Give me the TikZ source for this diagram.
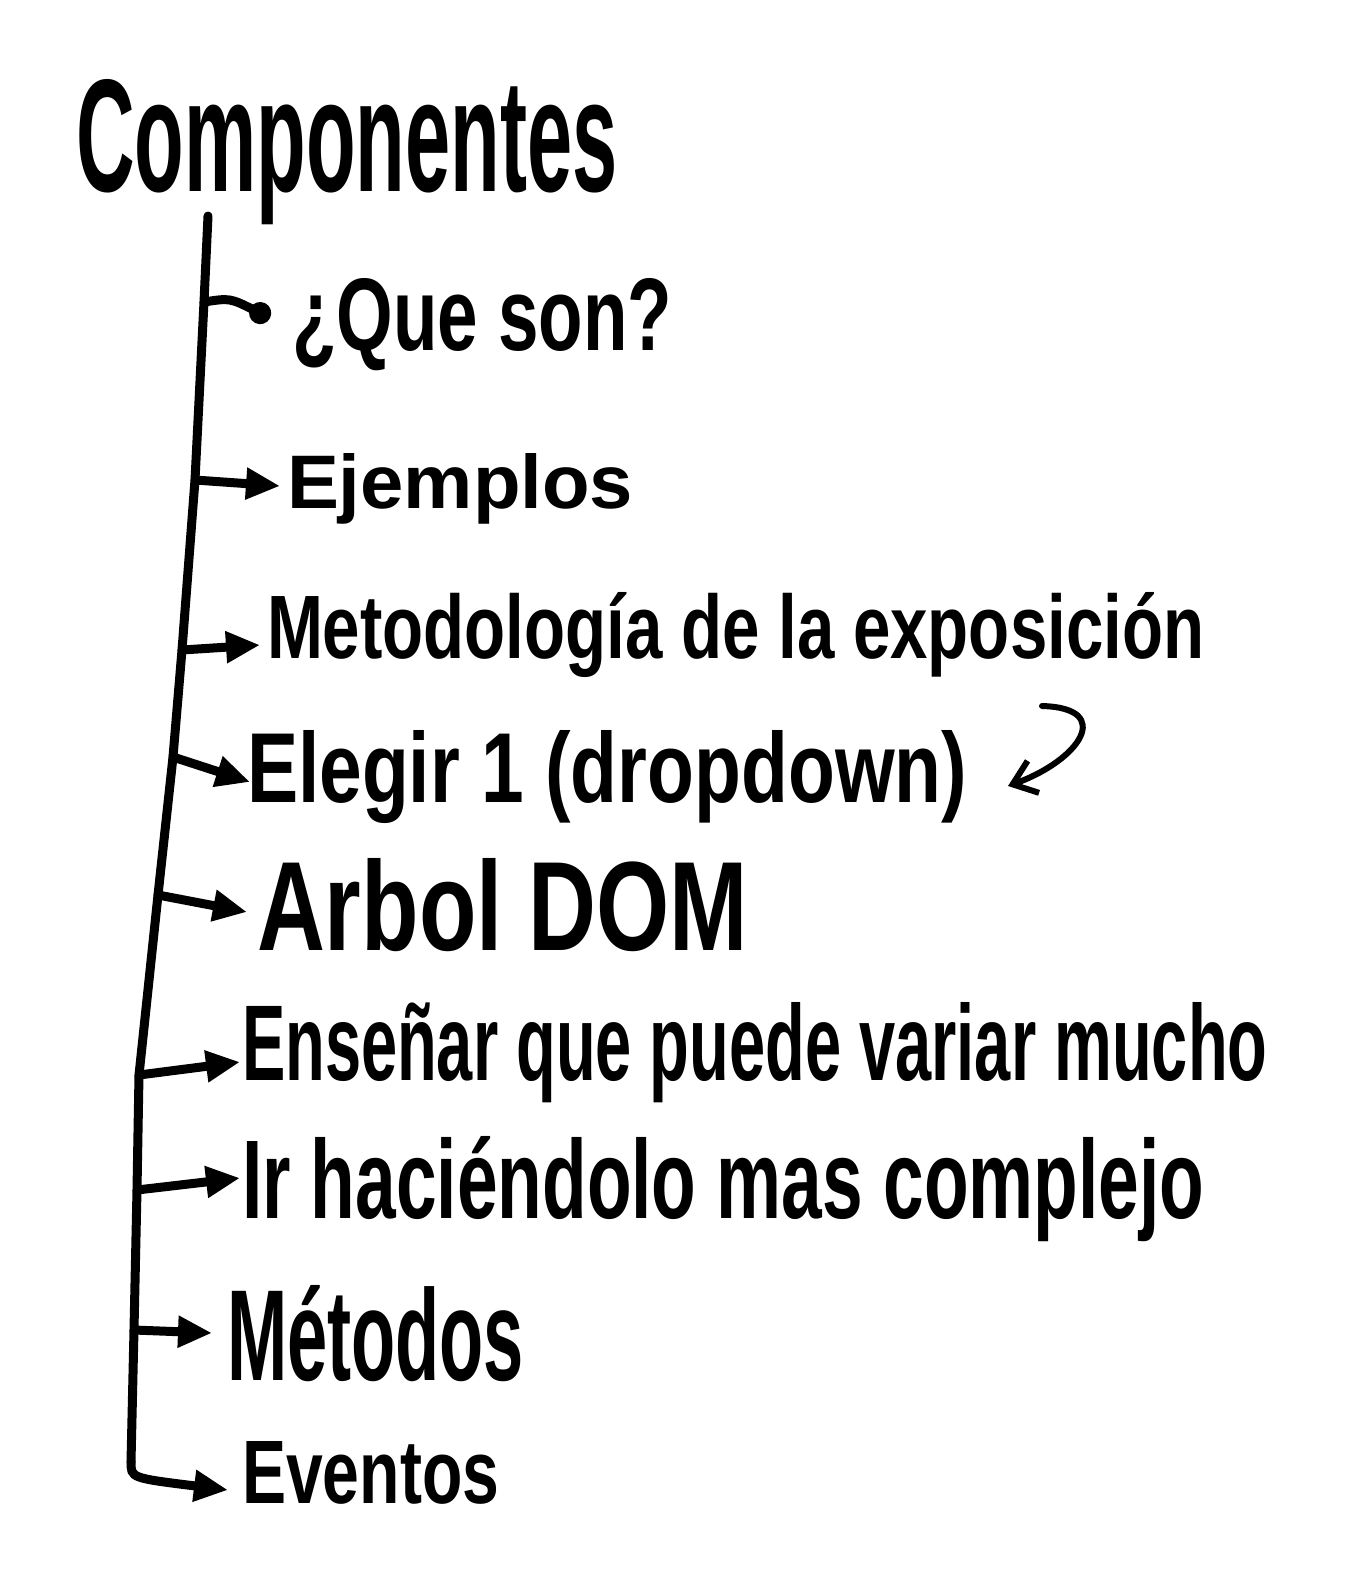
\documentclass[tikz,border=0pt]{standalone}
\usepackage{fontspec}
\setmainfont{Liberation Sans}
\usepackage{graphicx}
\usetikzlibrary{arrows.meta}
\newcommand{\fitbox}[3]{\resizebox{#1pt}{#2pt}{\bfseries #3}}
\begin{document}
\begin{tikzpicture}[x=1pt,y=-1pt,
  lbl/.style={anchor=base west, inner sep=0pt, outer sep=0pt},
  spine/.style={line width=9pt, line cap=round, line join=round},
  branch/.style={line width=9pt, line cap=round, -{Triangle[length=34pt,width=30pt]}},
  dotbranch/.style={line width=9pt, line cap=round, -{Circle[length=22pt]}},
  remark/.style={line width=6pt, line cap=round, -{Straight Barb[length=22pt,width=34pt,line width=6pt]}}]
\useasboundingbox[fill=white] (0,0) rectangle (1364,1579);

% labels
\node[lbl] (title) at (76,191) {\fitbox{541}{112}{Componentes}};
\node[lbl] (q) at (292,350) {\fitbox{380}{72}{¿Que son?}};
\node[lbl] (ej) at (287,508) {\fitbox{346}{55}{Ejemplos}};
\node[lbl] (met) at (267,658) {\fitbox{937}{66}{Metodología de la exposición}};
\node[lbl] (ele) at (247,802) {\fitbox{720}{72}{Elegir 1 (dropdown)}};
\node[lbl] (dom) at (257,950) {\fitbox{491}{92}{Arbol DOM}};
\node[lbl] (ens) at (242,1080) {\fitbox{1025}{78}{Enseñar que puede variar mucho}};
\node[lbl] (ir) at (242,1218) {\fitbox{962}{82}{Ir haciéndolo mas complejo}};
\node[lbl] (mtd) at (227,1380) {\fitbox{297}{95}{Métodos}};
\node[lbl] (ev) at (242,1503) {\fitbox{257}{62}{Eventos}};

% spine points
\coordinate (s0) at (208,216);
\coordinate (s1) at (204,302);
\coordinate (s2) at (195,480);
\coordinate (s3) at (182,650);
\coordinate (s4) at (173,757);
\coordinate (s5) at (158,895);
\coordinate (s6) at (139,1075);
\coordinate (s7) at (137,1190);
\coordinate (s8) at (134,1330);
\coordinate (s9) at (131,1462);

% branch tips
\coordinate (t1) at (270,318);
\coordinate (t2) at (280,486);
\coordinate (t3) at (260,645);
\coordinate (t4) at (250,782);
\coordinate (t5) at (247,912);
\coordinate (t6) at (240,1062);
\coordinate (t7) at (240,1178);
\coordinate (t8) at (212,1333);
\coordinate (t9) at (228,1490);

\draw[spine] (s0) -- (s1) -- (s2) -- (s3) -- (s4) -- (s5) -- (s6) -- (s7) -- (s8) -- (s9);

\draw[dotbranch] (s1) .. controls (230,298) .. (t1);
\draw[branch] (s2) -- (t2);
\draw[branch] (s3) -- (t3);
\draw[branch] (s4) -- (t4);
\draw[branch] (s5) -- (t5);
\draw[branch] (s6) -- (t6);
\draw[branch] (s7) -- (t7);
\draw[branch] (s8) -- (t8);
\draw[branch] (s9) .. controls (131,1478) .. (t9);

% remark arrow
\coordinate (c0) at (1042,706);
\coordinate (c1) at (1008,786);
\draw[remark] (c0) .. controls (1115,708) and (1080,760) .. (c1);
\end{tikzpicture}
\end{document}
